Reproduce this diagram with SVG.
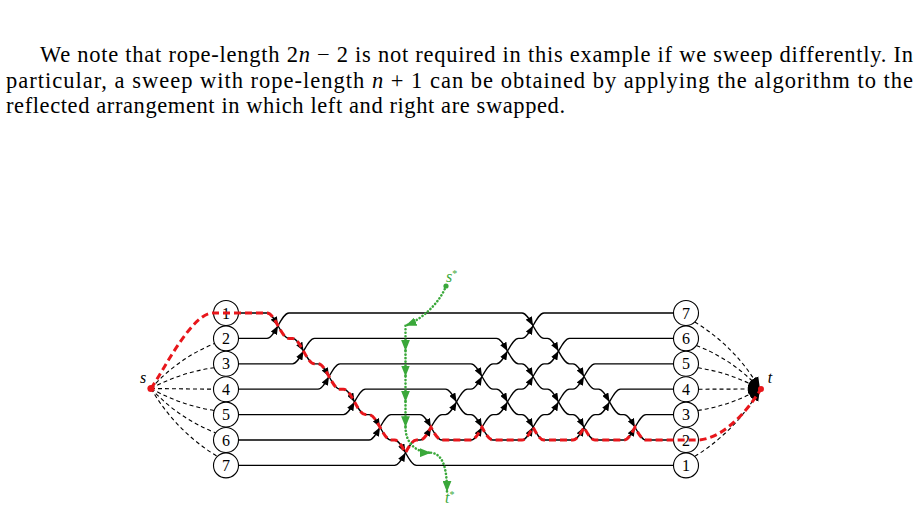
<svg xmlns="http://www.w3.org/2000/svg" width="919" height="511" viewBox="0 0 919 511">
<style>
.txt{font-family:"Liberation Serif","Times New Roman",serif;font-size:22.5px;fill:#000}
.ln{fill:none;stroke:#000;stroke-width:1.3}
.la{fill:none;stroke:#000;stroke-width:1.3;marker-end:url(#ah)}
.dl{fill:none;stroke:#000;stroke-width:1.1;stroke-dasharray:4 3}
.dla{fill:none;stroke:#000;stroke-width:1.1;stroke-dasharray:4 3;marker-end:url(#ahb)}
.nd{fill:#fff;stroke:#000;stroke-width:1.1}
.nl{font-family:"Liberation Serif","Times New Roman",serif;font-size:16px;text-anchor:middle;fill:#000}
.red{fill:none;stroke:#e8161b;stroke-width:3;stroke-dasharray:7 4}
.grn{fill:none;stroke:#3aa83a;stroke-width:2.6;stroke-linecap:round;stroke-dasharray:0.1 3.4;marker-end:url(#ga)}
.lab{font-family:"Liberation Serif","Times New Roman",serif;font-style:italic;font-size:16px}
</style>
<defs>
<marker id="ah" viewBox="0 0 10 8" refX="10" refY="4" markerWidth="9" markerHeight="7" markerUnits="userSpaceOnUse" orient="auto"><path d="M0,0 L10,4 L0,8 z" fill="#000"/></marker>
<marker id="ahb" viewBox="0 0 10 8" refX="10" refY="4" markerWidth="12" markerHeight="10" markerUnits="userSpaceOnUse" orient="auto"><path d="M0,0 L10,4 L0,8 z" fill="#000"/></marker>
<marker id="ga" viewBox="0 0 10 8" refX="10" refY="4" markerWidth="11" markerHeight="9" markerUnits="userSpaceOnUse" orient="auto"><path d="M0,0 L10,4 L0,8 z" fill="#3aa83a"/></marker>
</defs>

<g id="paragraph">
<text class="txt" x="40" y="62" textLength="873" lengthAdjust="spacing">We note that rope-length 2<tspan font-style="italic">n</tspan> − 2 is not required in this example if we sweep differently. In</text>
<text class="txt" x="6" y="88" textLength="907" lengthAdjust="spacing">particular, a sweep with rope-length <tspan font-style="italic">n</tspan> + 1 can be obtained by applying the algorithm to the</text>
<text class="txt" x="6" y="113" textLength="559" lengthAdjust="spacing">reflected arrangement in which left and right are swapped.</text>
</g>

<g id="connectors">
<g id="line1">
<path class="la" d="M239,313 L267,313 C271,313 274.5,319.35 278,325.7"/>
<path class="la" d="M278,325.7 C281.5,332.05 285,338.4 289,338.4 L292.5,338.4 C296.5,338.4 300,344.75 303.5,351.1"/>
<path class="la" d="M303.5,351.1 C307,357.45 310.5,363.8 314.5,363.8 L318,363.8 C322,363.8 325.5,370.15 329,376.5"/>
<path class="la" d="M329,376.5 C332.5,382.85 336,389.2 340,389.2 L343.5,389.2 C347.5,389.2 351,395.55 354.5,401.9"/>
<path class="la" d="M354.5,401.9 C358,408.25 361.5,414.6 365.5,414.6 L369,414.6 C373,414.6 376.5,420.95 380,427.3"/>
<path class="la" d="M380,427.3 C383.5,433.65 387,440 391,440 L394.5,440 C398.5,440 402,446.35 405.5,452.7"/>
<path class="ln" d="M405.5,452.7 C409,459.05 412.5,465.4 416.5,465.4 L673,465.4"/>
</g>
<g id="line2">
<path class="la" d="M239,338.4 L267,338.4 C271,338.4 274.5,332.05 278,325.7"/>
<path class="la" d="M278,325.7 C281.5,319.35 285,313 289,313 L522,313 C526,313 529.5,319.35 533,325.7"/>
<path class="la" d="M533,325.7 C536.5,332.05 540,338.4 544,338.4 L547.5,338.4 C551.5,338.4 555,344.75 558.5,351.1"/>
<path class="la" d="M558.5,351.1 C562,357.45 565.5,363.8 569.5,363.8 L573,363.8 C577,363.8 580.5,370.15 584,376.5"/>
<path class="la" d="M584,376.5 C587.5,382.85 591,389.2 595,389.2 L598.5,389.2 C602.5,389.2 606,395.55 609.5,401.9"/>
<path class="la" d="M609.5,401.9 C613,408.25 616.5,414.6 620.5,414.6 L624,414.6 C628,414.6 631.5,420.95 635,427.3"/>
<path class="ln" d="M635,427.3 C638.5,433.65 642,440 646,440 L673,440"/>
</g>
<g id="line3">
<path class="la" d="M239,363.8 L292.5,363.8 C296.5,363.8 300,357.45 303.5,351.1"/>
<path class="la" d="M303.5,351.1 C307,344.75 310.5,338.4 314.5,338.4 L496.5,338.4 C500.5,338.4 504,344.75 507.5,351.1"/>
<path class="la" d="M507.5,351.1 C511,357.45 514.5,363.8 518.5,363.8 L522,363.8 C526,363.8 529.5,370.15 533,376.5"/>
<path class="la" d="M533,376.5 C536.5,382.85 540,389.2 544,389.2 L547.5,389.2 C551.5,389.2 555,395.55 558.5,401.9"/>
<path class="la" d="M558.5,401.9 C562,408.25 565.5,414.6 569.5,414.6 L573,414.6 C577,414.6 580.5,420.95 584,427.3"/>
<path class="la" d="M584,427.3 C587.5,433.65 591,440 595,440 L624,440 C628,440 631.5,433.65 635,427.3"/>
<path class="ln" d="M635,427.3 C638.5,420.95 642,414.6 646,414.6 L673,414.6"/>
</g>
<g id="line4">
<path class="la" d="M239,389.2 L318,389.2 C322,389.2 325.5,382.85 329,376.5"/>
<path class="la" d="M329,376.5 C332.5,370.15 336,363.8 340,363.8 L471,363.8 C475,363.8 478.5,370.15 482,376.5"/>
<path class="la" d="M482,376.5 C485.5,382.85 489,389.2 493,389.2 L496.5,389.2 C500.5,389.2 504,395.55 507.5,401.9"/>
<path class="la" d="M507.5,401.9 C511,408.25 514.5,414.6 518.5,414.6 L522,414.6 C526,414.6 529.5,420.95 533,427.3"/>
<path class="la" d="M533,427.3 C536.5,433.65 540,440 544,440 L573,440 C577,440 580.5,433.65 584,427.3"/>
<path class="la" d="M584,427.3 C587.5,420.95 591,414.6 595,414.6 L598.5,414.6 C602.5,414.6 606,408.25 609.5,401.9"/>
<path class="ln" d="M609.5,401.9 C613,395.55 616.5,389.2 620.5,389.2 L673,389.2"/>
</g>
<g id="line5">
<path class="la" d="M239,414.6 L343.5,414.6 C347.5,414.6 351,408.25 354.5,401.9"/>
<path class="la" d="M354.5,401.9 C358,395.55 361.5,389.2 365.5,389.2 L445.5,389.2 C449.5,389.2 453,395.55 456.5,401.9"/>
<path class="la" d="M456.5,401.9 C460,408.25 463.5,414.6 467.5,414.6 L471,414.6 C475,414.6 478.5,420.95 482,427.3"/>
<path class="la" d="M482,427.3 C485.5,433.65 489,440 493,440 L522,440 C526,440 529.5,433.65 533,427.3"/>
<path class="la" d="M533,427.3 C536.5,420.95 540,414.6 544,414.6 L547.5,414.6 C551.5,414.6 555,408.25 558.5,401.9"/>
<path class="la" d="M558.5,401.9 C562,395.55 565.5,389.2 569.5,389.2 L573,389.2 C577,389.2 580.5,382.85 584,376.5"/>
<path class="ln" d="M584,376.5 C587.5,370.15 591,363.8 595,363.8 L673,363.8"/>
</g>
<g id="line6">
<path class="la" d="M239,440 L369,440 C373,440 376.5,433.65 380,427.3"/>
<path class="la" d="M380,427.3 C383.5,420.95 387,414.6 391,414.6 L420,414.6 C424,414.6 427.5,420.95 431,427.3"/>
<path class="la" d="M431,427.3 C434.5,433.65 438,440 442,440 L471,440 C475,440 478.5,433.65 482,427.3"/>
<path class="la" d="M482,427.3 C485.5,420.95 489,414.6 493,414.6 L496.5,414.6 C500.5,414.6 504,408.25 507.5,401.9"/>
<path class="la" d="M507.5,401.9 C511,395.55 514.5,389.2 518.5,389.2 L522,389.2 C526,389.2 529.5,382.85 533,376.5"/>
<path class="la" d="M533,376.5 C536.5,370.15 540,363.8 544,363.8 L547.5,363.8 C551.5,363.8 555,357.45 558.5,351.1"/>
<path class="ln" d="M558.5,351.1 C562,344.75 565.5,338.4 569.5,338.4 L673,338.4"/>
</g>
<g id="line7">
<path class="la" d="M239,465.4 L394.5,465.4 C398.5,465.4 402,459.05 405.5,452.7"/>
<path class="la" d="M405.5,452.7 C409,446.35 412.5,440 416.5,440 L420,440 C424,440 427.5,433.65 431,427.3"/>
<path class="la" d="M431,427.3 C434.5,420.95 438,414.6 442,414.6 L445.5,414.6 C449.5,414.6 453,408.25 456.5,401.9"/>
<path class="la" d="M456.5,401.9 C460,395.55 463.5,389.2 467.5,389.2 L471,389.2 C475,389.2 478.5,382.85 482,376.5"/>
<path class="la" d="M482,376.5 C485.5,370.15 489,363.8 493,363.8 L496.5,363.8 C500.5,363.8 504,357.45 507.5,351.1"/>
<path class="la" d="M507.5,351.1 C511,344.75 514.5,338.4 518.5,338.4 L522,338.4 C526,338.4 529.5,332.05 533,325.7"/>
<path class="ln" d="M533,325.7 C536.5,319.35 540,313 544,313 L673,313"/>
</g>
<g id="s-edges">
<path class="dl" d="M151,388.5 Q177.7,358.5 214.5,343.5"/>
<path class="dl" d="M151,388.5 Q180.7,372.4 214.1,367.7"/>
<path class="dl" d="M151,388.5 L213.5,389.2"/>
<path class="dl" d="M151,388.5 Q180.6,405.2 214.2,410.5"/>
<path class="dl" d="M151,388.5 Q178.2,418.1 215.7,432.9"/>
<path class="dl" d="M151,388.5 Q175.6,430.9 217.3,456.4"/>
</g>
<g id="t-edges">
<path class="dla" d="M694.7,322 Q736,347 760,389"/>
<path class="dla" d="M696.3,345.5 Q733.3,359.8 760,389"/>
<path class="dla" d="M697.8,367.8 Q730.8,372.7 760,389"/>
<path class="dla" d="M698.5,389.2 L760,389"/>
<path class="dla" d="M697.8,410.5 Q730.9,405.5 760,389"/>
<path class="dla" d="M694.7,456.4 Q736,431 760,389"/>
</g>
</g>

<g id="left-nodes">
<g id="L1"><circle class="nd" cx="226" cy="313" r="12.5"/><text class="nl" x="226" y="318.5">1</text></g>
<g id="L2"><circle class="nd" cx="226" cy="338.4" r="12.5"/><text class="nl" x="226" y="343.9">2</text></g>
<g id="L3"><circle class="nd" cx="226" cy="363.8" r="12.5"/><text class="nl" x="226" y="369.3">3</text></g>
<g id="L4"><circle class="nd" cx="226" cy="389.2" r="12.5"/><text class="nl" x="226" y="394.7">4</text></g>
<g id="L5"><circle class="nd" cx="226" cy="414.6" r="12.5"/><text class="nl" x="226" y="420.1">5</text></g>
<g id="L6"><circle class="nd" cx="226" cy="440" r="12.5"/><text class="nl" x="226" y="445.5">6</text></g>
<g id="L7"><circle class="nd" cx="226" cy="465.4" r="12.5"/><text class="nl" x="226" y="470.9">7</text></g>
</g>
<g id="right-nodes">
<g id="R7"><circle class="nd" cx="686" cy="313" r="12.5"/><text class="nl" x="686" y="318.5">7</text></g>
<g id="R6"><circle class="nd" cx="686" cy="338.4" r="12.5"/><text class="nl" x="686" y="343.9">6</text></g>
<g id="R5"><circle class="nd" cx="686" cy="363.8" r="12.5"/><text class="nl" x="686" y="369.3">5</text></g>
<g id="R4"><circle class="nd" cx="686" cy="389.2" r="12.5"/><text class="nl" x="686" y="394.7">4</text></g>
<g id="R3"><circle class="nd" cx="686" cy="414.6" r="12.5"/><text class="nl" x="686" y="420.1">3</text></g>
<g id="R2"><circle class="nd" cx="686" cy="440" r="12.5"/><text class="nl" x="686" y="445.5">2</text></g>
<g id="R1"><circle class="nd" cx="686" cy="465.4" r="12.5"/><text class="nl" x="686" y="470.9">1</text></g>
</g>

<g id="rope">
<path class="red" d="M151,388.5 C165,368 192,313 213,313 L267,313 C271,313 274.5,319.35 278,325.7 C281.5,332.05 285,338.4 289,338.4 L292.5,338.4 C296.5,338.4 300,344.75 303.5,351.1 C307,357.45 310.5,363.8 314.5,363.8 L318,363.8 C322,363.8 325.5,370.15 329,376.5 C332.5,382.85 336,389.2 340,389.2 L343.5,389.2 C347.5,389.2 351,395.55 354.5,401.9 C358,408.25 361.5,414.6 365.5,414.6 L369,414.6 C373,414.6 376.5,420.95 380,427.3 C383.5,433.65 387,440 391,440 L394.5,440 C398.5,440 402,446.35 405.5,452.7 C409,446.35 412.5,440 416.5,440 L420,440 C424,440 427.5,433.65 431,427.3 C434.5,433.65 438,440 442,440 L471,440 C475,440 478.5,433.65 482,427.3 C485.5,433.65 489,440 493,440 L522,440 C526,440 529.5,433.65 533,427.3 C536.5,433.65 540,440 544,440 L573,440 C577,440 580.5,433.65 584,427.3 C587.5,433.65 591,440 595,440 L624,440 C628,440 631.5,433.65 635,427.3 C638.5,433.65 642,440 646,440 L697,440 C720,440 745,415 761,389"/>
<circle id="s" cx="151" cy="388.5" r="3.6" fill="#e8161b"/>
<circle id="t" cx="761" cy="389" r="3" fill="#e8161b"/>
<text class="lab" x="143" y="383" text-anchor="middle">s</text>
<text class="lab" x="770" y="383" text-anchor="middle">t</text>
</g>

<g id="dual-path">
<circle cx="446" cy="286" r="2.6" fill="#3aa83a"/>
<path class="grn" d="M446,286 C441,300 425,318 405.5,325.7"/>
<path class="grn" d="M405.5,325.7 L405.5,351.1"/>
<path class="grn" d="M405.5,351.1 L405.5,376.5"/>
<path class="grn" d="M405.5,376.5 L405.5,401.9"/>
<path class="grn" d="M405.5,401.9 L405.5,427.3"/>
<path class="grn" d="M405.5,427.3 C405.5,442 415,452.7 431,452.7"/>
<path class="grn" d="M431,452.7 C443,454 447,468 447,492"/>
<text class="lab" x="446" y="282" font-size="13" fill="#3aa83a">s<tspan font-size="10" dy="-5" font-style="normal">*</tspan></text>
<text class="lab" x="445" y="503" font-size="13" fill="#3aa83a">t<tspan font-size="10" dy="-5" font-style="normal">*</tspan></text>
</g>
</svg>
